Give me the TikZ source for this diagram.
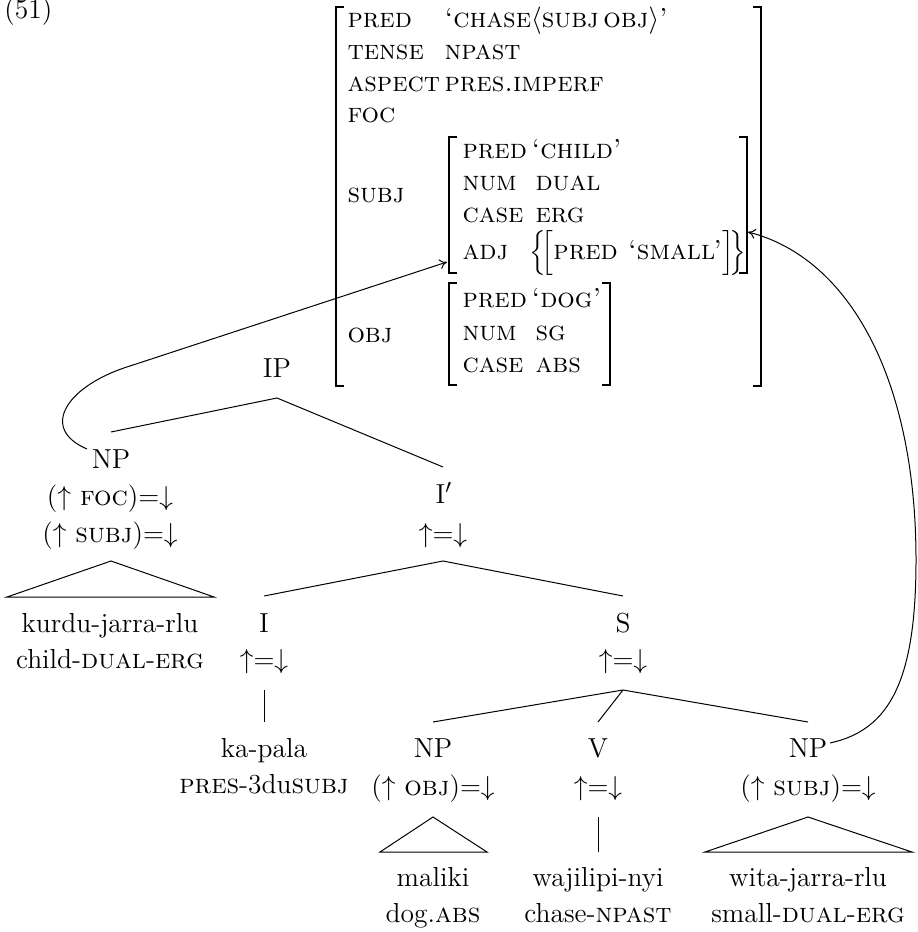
\documentclass[tikz,border=0pt]{standalone}
\usetikzlibrary{arrows.meta}
\begin{document}
\begin{tikzpicture}[x=0.4pt,y=-0.4pt,
  txt/.style={inner sep=0pt, anchor=base, font=\fontsize{11}{13}\selectfont},
  avm/.style={inner sep=0pt, anchor=base west, font=\fontsize{11}{13}\selectfont\scshape},
  brk/.style={line width=1pt},
  branch/.style={line width=0.4pt},
  link/.style={line width=0.4pt, -{To[length=3pt,width=4pt]}}]
\useasboundingbox (0,0) rectangle (918,932);
% example number
\node[txt, anchor=base west] (ex) at (4,19) {(51)};
% ---- f-structure ----
\node[avm] (pred) at (347,28) {pred};
\node[avm] (predv) at (444,28) {`chase$\langle$subj\,obj$\rangle$'};
\node[avm] (tense) at (347,60) {tense};
\node[avm] (tensev) at (444,60) {npast};
\node[avm] (aspect) at (347,92) {aspect};
\node[avm] (aspectv) at (444,92) {pres.imperf};
\node[avm] (foc) at (347,123) {foc};
\node[avm] (subj) at (347,203) {subj};
\node[avm] (obj) at (347,342) {obj};
\node[avm] (spred) at (462,159) {pred};
\node[avm] (spredv) at (531,159) {`child'};
\node[avm] (snum) at (462,191) {num};
\node[avm] (snumv) at (535,191) {dual};
\node[avm] (scase) at (462,223) {case};
\node[avm] (scasev) at (535,223) {erg};
\node[avm] (sadj) at (462,260) {adj};
\node[avm] (sadjv) at (529,260) {\smash{$\Bigl\{\!\Bigl[$}pred\ `small'\smash{$\Bigr]\!\Bigr\}$}};
\node[avm] (opred) at (462,308) {pred};
\node[avm] (opredv) at (531,308) {`dog'};
\node[avm] (onum) at (462,340) {num};
\node[avm] (onumv) at (535,340) {sg};
\node[avm] (ocase) at (462,372) {case};
\node[avm] (ocasev) at (535,372) {abs};
\draw[brk] (344,7) -- (336,7) -- (336,386) -- (344,386);
\draw[brk] (753,7) -- (761,7) -- (761,386) -- (753,386);
\draw[brk] (457,137) -- (449,137) -- (449,273) -- (457,273);
\draw[brk] (739,137) -- (747,137) -- (747,273) -- (739,273);
\draw[brk] (457,283) -- (449,283) -- (449,385) -- (457,385);
\draw[brk] (602,283) -- (610,283) -- (610,385) -- (602,385);
\coordinate (adjtip) at (447,262);
\coordinate (subjtip) at (748,232);
% ---- c-structure ----
\node[txt] (IP) at (277,377) {IP};
\node[txt] (NPf) at (111,468) {NP};
\node[txt] (NPfa) at (110,505) {($\uparrow$ \textsc{foc})=$\downarrow$};
\node[txt] (NPfb) at (110,542) {($\uparrow$ \textsc{subj})=$\downarrow$};
\node[txt] (Ib) at (444,503) {I$'$};
\node[txt] (Iba) at (443,542) {$\uparrow$=$\downarrow$};
\node[txt] (kurdu) at (110,632) {kurdu-jarra-rlu};
\node[txt] (kurdug) at (110,668) {child-\textsc{dual}-\textsc{erg}};
\node[txt] (I) at (264,632) {I};
\node[txt] (Ia) at (264,668) {$\uparrow$=$\downarrow$};
\node[txt] (S) at (623,632) {S};
\node[txt] (Sa) at (623,668) {$\uparrow$=$\downarrow$};
\node[txt] (kapala) at (264,757) {ka-pala};
\node[txt] (kapalag) at (264,793) {\textsc{pres}-3du\textsc{subj}};
\node[txt] (NPo) at (433,757) {NP};
\node[txt] (NPoa) at (433,795) {($\uparrow$ \textsc{obj})=$\downarrow$};
\node[txt] (V) at (598,757) {V};
\node[txt] (Va) at (598,795) {$\uparrow$=$\downarrow$};
\node[txt] (NPs) at (808,757) {NP};
\node[txt] (NPsa) at (808,795) {($\uparrow$ \textsc{subj})=$\downarrow$};
\node[txt] (maliki) at (433,886) {maliki};
\node[txt] (malikig) at (433,922) {dog.\textsc{abs}};
\node[txt] (waji) at (598,886) {wajilipi-nyi};
\node[txt] (wajig) at (598,922) {chase-\textsc{npast}};
\node[txt] (wita) at (808,886) {wita-jarra-rlu};
\node[txt] (witag) at (808,922) {small-\textsc{dual}-\textsc{erg}};
% branch points
\coordinate (IP-b) at (277,398);
\coordinate (NPf-t) at (111,432);
\coordinate (Ib-t) at (443,467);
\coordinate (Ib-b) at (443,561);
\coordinate (I-t) at (264,596);
\coordinate (S-t) at (623,596);
\coordinate (S-b) at (623,690);
\coordinate (NPo-t) at (433,722);
\coordinate (V-t) at (598,722);
\coordinate (NPs-t) at (808,722);
\coordinate (I-b) at (264,690);
\coordinate (kapala-t) at (264,722);
\coordinate (NPf-b) at (111,561);
\coordinate (kurdu-l) at (7,597);
\coordinate (kurdu-r) at (214,597);
\coordinate (NPo-b) at (433,817);
\coordinate (maliki-l) at (380,852);
\coordinate (maliki-r) at (487,852);
\coordinate (V-b) at (598,817);
\coordinate (waji-t) at (598,852);
\coordinate (NPs-b) at (808,817);
\coordinate (wita-l) at (705,852);
\coordinate (wita-r) at (912,852);
\draw[branch] (NPf-t) -- (IP-b) -- (Ib-t);
\draw[branch] (I-t) -- (Ib-b) -- (S-t);
\draw[branch] (NPo-t) -- (S-b) -- (NPs-t);
\draw[branch] (S-b) -- (V-t);
\draw[branch] (I-b) -- (kapala-t);
\draw[branch] (V-b) -- (waji-t);
\draw[branch] (kurdu-l) -- (NPf-b) -- (kurdu-r) -- cycle;
\draw[branch] (maliki-l) -- (NPo-b) -- (maliki-r) -- cycle;
\draw[branch] (wita-l) -- (NPs-b) -- (wita-r) -- cycle;
% links
\coordinate (lstart) at (87,449);
\coordinate (rstart) at (830,743);
\draw[link] (lstart) .. controls (38,428) and (68,385) .. (130,366) -- (adjtip);
\draw[link] (rstart) .. controls (890,730) and (916,680) .. (916,560) .. controls (916,380) and (850,258) .. (subjtip);
\end{tikzpicture}
\end{document}
